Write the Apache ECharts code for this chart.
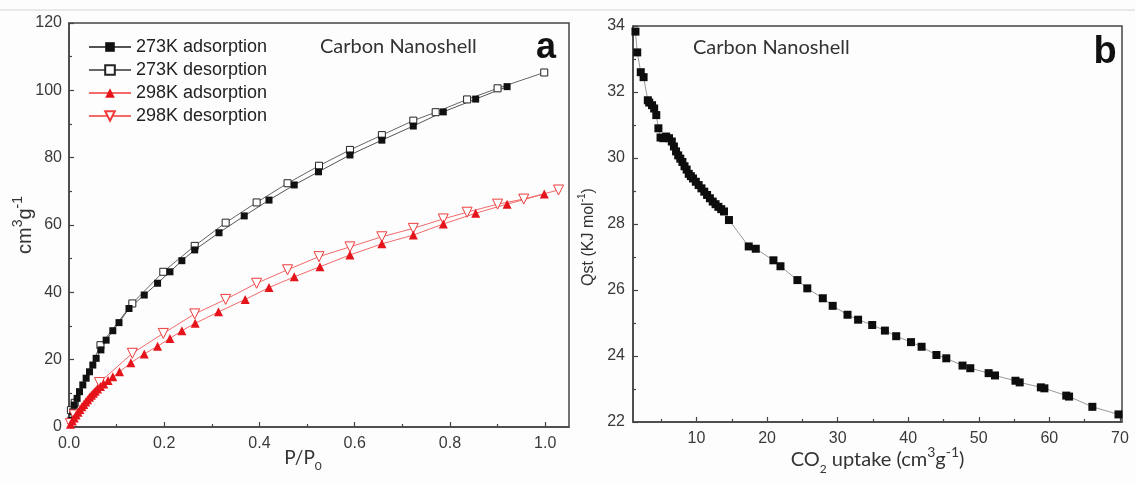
<!DOCTYPE html>
<html>
<head>
<meta charset="utf-8">
<script src="https://cdn.jsdelivr.net/npm/echarts@6/dist/echarts.min.js"></script>
<style>
  html, body { margin: 0; padding: 0; background: #fdfdfd; }
  #chart { width: 1135px; height: 483px; }
</style>
</head>
<body>
<div id="chart"></div>
<script>
// panel a: CO2 isotherms (P/P0 vs cm3/g)
const ads273P = [0.004, 0.008, 0.011, 0.017, 0.022, 0.029, 0.036, 0.043, 0.050, 0.057, 0.067, 0.078, 0.092, 0.105, 0.126, 0.158, 0.186, 0.212, 0.237, 0.264, 0.315, 0.368, 0.420, 0.473, 0.524, 0.590, 0.657, 0.723, 0.786, 0.854, 0.920];
const ads273V = [2.0, 4.5, 6.5, 8.5, 10.5, 12.5, 14.5, 16.4, 18.4, 20.4, 22.9, 25.8, 28.6, 31.0, 35.2, 39.2, 42.7, 46.1, 49.4, 52.6, 57.7, 62.7, 67.4, 71.9, 75.8, 80.8, 85.2, 89.4, 93.6, 97.4, 101.1];

const des273P = [0.998, 0.900, 0.836, 0.770, 0.723, 0.657, 0.590, 0.525, 0.459, 0.394, 0.329, 0.264, 0.198, 0.133, 0.066, 0.012, 0.004];
const des273V = [105.3, 100.6, 97.3, 93.5, 91.0, 86.7, 82.3, 77.6, 72.4, 66.7, 60.7, 53.8, 46.1, 36.7, 24.3, 7.2, 5.0];

const ads298P = [0.003, 0.007, 0.011, 0.015, 0.019, 0.023, 0.027, 0.031, 0.035, 0.039, 0.043, 0.047, 0.051, 0.055, 0.060, 0.066, 0.073, 0.082, 0.092, 0.106, 0.130, 0.158, 0.186, 0.212, 0.237, 0.265, 0.314, 0.370, 0.420, 0.473, 0.527, 0.590, 0.657, 0.723, 0.786, 0.854, 0.920, 0.998];
const ads298V = [0.8, 1.8, 2.7, 3.6, 4.4, 5.2, 6.0, 6.7, 7.4, 8.1, 8.8, 9.4, 10.0, 10.6, 11.3, 12.0, 12.8, 13.8, 14.9, 16.4, 19.1, 21.7, 24.0, 26.3, 28.6, 30.8, 34.2, 37.9, 41.4, 44.6, 47.6, 51.1, 54.4, 57.0, 60.3, 63.5, 66.2, 69.2];

const des298P = [1.028, 0.955, 0.900, 0.836, 0.786, 0.723, 0.657, 0.590, 0.525, 0.459, 0.394, 0.329, 0.264, 0.198, 0.133, 0.064, 0.011, 0.003];
const des298V = [70.4, 67.7, 66.2, 63.8, 61.8, 59.0, 56.5, 53.5, 50.6, 46.7, 42.7, 37.9, 33.6, 27.8, 21.9, 13.2, 3.6, 1.0];

// panel b: isosteric heat vs uptake
const uptake = [1.35, 1.6, 2.1, 2.5, 3.1, 3.3, 3.7, 4.0, 4.3, 4.6, 4.9, 5.3, 5.7, 6.1, 6.5, 6.8, 7.1, 7.4, 7.7, 8.0, 8.3, 8.6, 8.9, 9.2, 9.5, 9.9, 10.3, 10.7, 11.1, 11.5, 11.9, 12.3, 12.7, 13.1, 13.5, 13.9, 14.6, 17.4, 18.4, 20.9, 21.9, 24.3, 25.7, 27.9, 29.3, 31.4, 32.9, 34.9, 36.7, 38.3, 40.4, 41.9, 44.0, 45.4, 47.7, 48.8, 51.4, 52.3, 55.2, 55.8, 58.8, 59.3, 62.4, 62.8, 66.1, 69.8];
const qst = [33.83, 33.2, 32.6, 32.45, 31.75, 31.68, 31.6, 31.5, 31.3, 30.9, 30.62, 30.6, 30.65, 30.6, 30.5, 30.35, 30.2, 30.08, 29.98, 29.88, 29.75, 29.65, 29.52, 29.45, 29.38, 29.28, 29.18, 29.08, 28.98, 28.88, 28.78, 28.68, 28.6, 28.52, 28.45, 28.38, 28.12, 27.32, 27.25, 26.9, 26.72, 26.3, 26.05, 25.75, 25.52, 25.25, 25.1, 24.94, 24.77, 24.6, 24.42, 24.28, 24.03, 23.93, 23.71, 23.63, 23.48, 23.41, 23.25, 23.2, 23.05, 23.02, 22.8, 22.77, 22.46, 22.23];

// tick values
const xTicksA = [0, 0.2, 0.4, 0.6, 0.8, 1.0];
const xMinorA = [0.1, 0.3, 0.5, 0.7, 0.9];
const xTicksB = [10, 20, 30, 40, 50, 60, 70];
const xMinorB = [5, 15, 25, 35, 45, 55, 65];

const zip = (xs, ys) => xs.map((x, i) => [x, ys[i]]);

const AXIS = '#444';
const LABEL = { fontSize: 16, color: '#3a3a3a', fontFamily: 'Liberation Sans, Arial, sans-serif' };

const majorX = (grid, min, max, ticks, fmt, extra) => Object.assign({
  type: 'value', gridIndex: grid, min: min, max: max, position: 'bottom',
  nameMoveOverlap: false,
  axisLine: { show: true, onZero: false, lineStyle: { color: AXIS, width: 1.5 } },
  axisTick: { show: true, inside: true, length: 5, customValues: ticks, lineStyle: { color: AXIS, width: 1.2 } },
  axisLabel: Object.assign({ customValues: ticks, formatter: fmt, margin: 9 }, LABEL),
  splitLine: { show: false }
}, extra);

const minorX = (grid, min, max, ticks) => ({
  type: 'value', gridIndex: grid, min: min, max: max, position: 'bottom',
  axisLine: { show: false },
  axisTick: { show: true, inside: true, length: 3, customValues: ticks, lineStyle: { color: AXIS, width: 1.2 } },
  axisLabel: { show: false },
  splitLine: { show: false }
});

const option = {
  animation: false,
  backgroundColor: '#fdfdfd',
  grid: [
    { left: 69, top: 23, width: 500, height: 404, show: true, borderColor: AXIS, borderWidth: 1.5, outerBoundsMode: 'none' },
    { left: 633, top: 26, width: 489, height: 396, show: true, borderColor: AXIS, borderWidth: 1.5, outerBoundsMode: 'none' }
  ],
  xAxis: [
    majorX(0, 0, 1.05, xTicksA, v => v.toFixed(1), {
      name: 'P/P{sub|0}', nameLocation: 'middle', nameGap: 17,
      nameTextStyle: { fontSize: 19, color: '#333', fontFamily: 'Lato', lineHeight: 28, padding: [0, 32, 0, 0],
        rich: { sub: { fontSize: 12, fontFamily: 'Lato', color: '#333', verticalAlign: 'bottom', lineHeight: 12 } } }
    }),
    minorX(0, 0, 1.05, xMinorA),
    majorX(1, 1, 70.3, xTicksB, v => String(v), {
      name: 'CO{sub|2} uptake (cm{sup|3}g{sup|-1})', nameLocation: 'middle', nameGap: 23,
      nameTextStyle: { fontSize: 20, color: '#333', fontFamily: 'Lato', lineHeight: 30,
        rich: {
          sub: { fontSize: 12, fontFamily: 'Lato', color: '#333', verticalAlign: 'bottom', lineHeight: 12 },
          sup: { fontSize: 14, fontFamily: 'Lato', color: '#333', verticalAlign: 'top', lineHeight: 14 }
        } }
    }),
    minorX(1, 1, 70.3, xMinorB)
  ],
  yAxis: [
    {
      type: 'value', gridIndex: 0, min: 0, max: 120, interval: 20,
      nameMoveOverlap: false,
      axisLine: { show: true, onZero: false, lineStyle: { color: AXIS, width: 1.5 } },
      axisTick: { inside: true, length: 5, lineStyle: { color: AXIS, width: 1.2 } },
      minorTick: { show: true, splitNumber: 2, length: 3, lineStyle: { color: AXIS, width: 1.2 } },
      axisLabel: Object.assign({ margin: 7 }, LABEL),
      splitLine: { show: false },
      name: 'cm{sup|3}g{sup|-1}', nameLocation: 'middle', nameGap: 30,
      nameTextStyle: { fontSize: 20, color: '#333', fontFamily: 'Liberation Sans', lineHeight: 28,
        rich: { sup: { fontSize: 14, fontFamily: 'Liberation Sans', color: '#333', verticalAlign: 'top', lineHeight: 14 } } }
    },
    {
      type: 'value', gridIndex: 1, min: 22, max: 34, interval: 2,
      nameMoveOverlap: false,
      axisLine: { show: true, onZero: false, lineStyle: { color: AXIS, width: 1.5 } },
      axisTick: { inside: true, length: 5, lineStyle: { color: AXIS, width: 1.2 } },
      minorTick: { show: true, splitNumber: 2, length: 3, lineStyle: { color: AXIS, width: 1.2 } },
      axisLabel: Object.assign({ margin: 8 }, LABEL),
      splitLine: { show: false },
      name: 'Qst (KJ mol{sup|-1})', nameLocation: 'middle', nameGap: 32,
      nameTextStyle: { fontSize: 16, color: '#333', fontFamily: 'Liberation Sans', lineHeight: 24, padding: [0, 26, 0, 0],
        rich: { sup: { fontSize: 10, fontFamily: 'Liberation Sans', color: '#333', verticalAlign: 'top', lineHeight: 10 } } }
    }
  ],
  legend: {
    orient: 'vertical', left: 88, top: 38, padding: 0,
    itemWidth: 42, itemHeight: 12, itemGap: 5,
    textStyle: { fontSize: 18, color: '#222', fontFamily: 'Liberation Sans' },
    data: ['273K adsorption', '273K desorption', '298K adsorption', '298K desorption']
  },
  series: [
    {
      name: '273K desorption', type: 'line', xAxisIndex: 0, yAxisIndex: 0, clip: false,
      data: zip(des273P, des273V), symbol: 'rect', symbolSize: 7,
      itemStyle: { color: '#fff', borderColor: '#222', borderWidth: 1 },
      lineStyle: { color: '#666', width: 1 }
    },
    {
      name: '273K adsorption', type: 'line', xAxisIndex: 0, yAxisIndex: 0, clip: false,
      data: zip(ads273P, ads273V), symbol: 'rect', symbolSize: 7,
      itemStyle: { color: '#111' },
      lineStyle: { color: '#555', width: 1 }
    },
    {
      name: '298K desorption', type: 'line', xAxisIndex: 0, yAxisIndex: 0, clip: false,
      data: zip(des298P, des298V), symbol: 'triangle', symbolRotate: 180, symbolSize: 10,
      itemStyle: { color: '#fff', borderColor: '#ef3b3b', borderWidth: 1 },
      lineStyle: { color: '#f26a6a', width: 1 }
    },
    {
      name: '298K adsorption', type: 'line', xAxisIndex: 0, yAxisIndex: 0, clip: false,
      data: zip(ads298P, ads298V), symbol: 'triangle', symbolSize: 9,
      itemStyle: { color: '#e5141b' },
      lineStyle: { color: '#f26a6a', width: 1 }
    },
    {
      name: 'Qst', type: 'line', xAxisIndex: 2, yAxisIndex: 1, clip: false,
      data: zip(uptake, qst), symbol: 'rect', symbolSize: 8,
      itemStyle: { color: '#0d0d0d' },
      lineStyle: { color: '#999', width: 1 }
    }
  ],
  graphic: [
    { type: 'line', shape: { x1: 0, y1: 10, x2: 1135, y2: 10 }, style: { stroke: '#d4d4d4', lineWidth: 1 } },
    { type: 'text', x: 320, y: 47, style: { text: 'Carbon Nanoshell', font: '20px Lato', fill: '#333', verticalAlign: 'middle' } },
    { type: 'text', x: 546, y: 48, style: { text: 'a', font: 'bold 36px "Liberation Sans"', fill: '#111', align: 'center', verticalAlign: 'middle' } },
    { type: 'text', x: 693, y: 48, style: { text: 'Carbon Nanoshell', font: '20px Lato', fill: '#333', verticalAlign: 'middle' } },
    { type: 'text', x: 1105, y: 53, style: { text: 'b', font: 'bold 38px "Liberation Sans"', fill: '#111', align: 'center', verticalAlign: 'middle' } }
  ]
};

const myChart = echarts.init(document.getElementById('chart'));
myChart.setOption(option);
</script>
</body>
</html>
